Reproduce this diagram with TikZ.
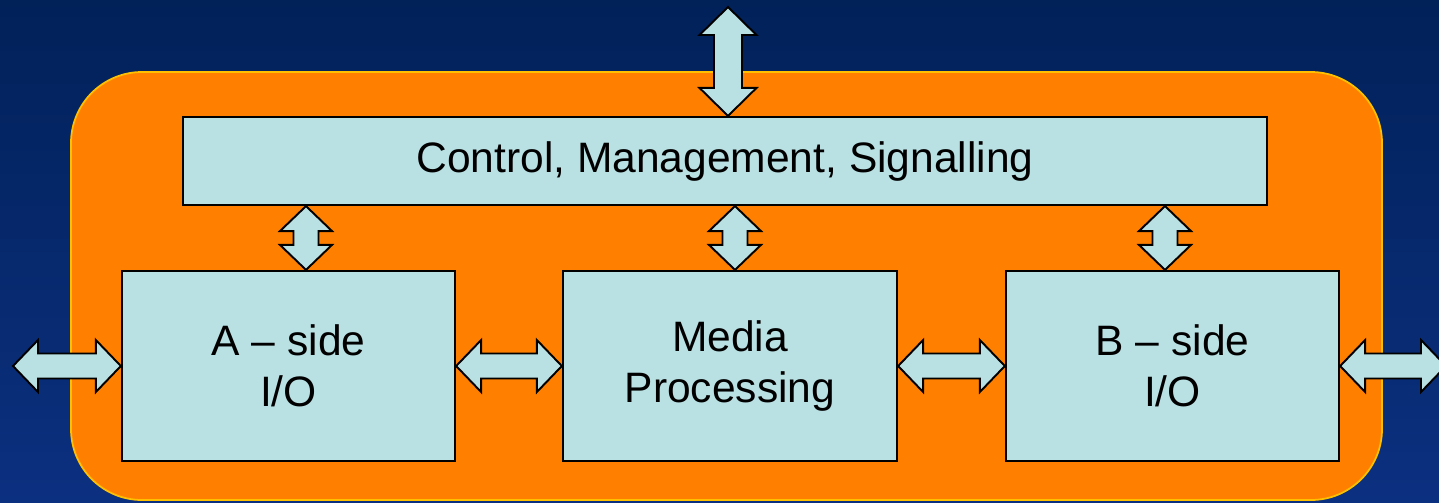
\documentclass[tikz,border=0pt]{standalone}
\usepackage{fontspec}
\setmainfont{Liberation Sans}
\usetikzlibrary{calc}

\definecolor{navytop}{RGB}{1,33,89}
\definecolor{navybot}{RGB}{12,48,128}
\definecolor{panelorange}{RGB}{255,128,0}
\definecolor{panelrim}{RGB}{255,192,0}
\definecolor{boxblue}{RGB}{185,224,227}

\tikzset{
  block/.style={draw=black, fill=boxblue, line width=0.6pt, inner sep=0pt, align=center,
    font=\fontsize{12.1}{14.5}\selectfont},
  blockarrow/.style n args={3}{fill=boxblue, draw=black, line width=0.55pt, line join=miter,
    to path={
      -- ($(\tikztostart)!#1!(\tikztotarget)!#2!90:(\tikztotarget)$)
      -- ($(\tikztostart)!#1!(\tikztotarget)!#3!90:(\tikztotarget)$)
      -- ($(\tikztotarget)!#1!(\tikztostart)!#3!-90:(\tikztostart)$)
      -- ($(\tikztotarget)!#1!(\tikztostart)!#2!-90:(\tikztostart)$)
      -- (\tikztotarget)
      -- ($(\tikztotarget)!#1!(\tikztostart)!#2!90:(\tikztostart)$)
      -- ($(\tikztotarget)!#1!(\tikztostart)!#3!90:(\tikztostart)$)
      -- ($(\tikztostart)!#1!(\tikztotarget)!#3!-90:(\tikztotarget)$)
      -- ($(\tikztostart)!#1!(\tikztotarget)!#2!-90:(\tikztotarget)$)
      -- cycle}},
  smallarrow/.style={blockarrow={0.25cm}{0.26cm}{0.125cm}},
  bigarrow/.style={blockarrow={0.28cm}{0.285cm}{0.14cm}}
}

\begin{document}
\begin{tikzpicture}[x=0.01cm, y=-0.01cm]
  \useasboundingbox (0,0) rectangle (1439,502);
  \shade[top color=navytop, bottom color=navybot] (0,0) rectangle (1439,502);
  \filldraw[fill=panelorange, draw=panelrim, line width=0.5pt, rounded corners=0.71cm] (71,72) rectangle (1382,500);

  \node[block, minimum width=10.84cm, minimum height=0.88cm] (ctl) at (725,161) {Control, Management, Signalling};
  \node[block, minimum width=3.33cm, minimum height=1.9cm] (aio) at (288.5,366) {A – side\\I/O};
  \node[block, minimum width=3.34cm, minimum height=1.9cm] (mp) at (730,366) {Media\\Processing};
  \node[block, minimum width=3.33cm, minimum height=1.9cm] (bio) at (1172.5,366) {B – side\\I/O};

  \coordinate (top) at (728,7);
  \coordinate (xa) at (306,0);
  \coordinate (xm) at (735,0);
  \coordinate (xb) at (1165,0);
  \coordinate (lft) at (13,366);
  \coordinate (rgt) at (1446,366);

  \draw[bigarrow] (ctl.north -| top) to (top);
  \draw[smallarrow] (ctl.south -| xa) to (aio.north -| xa);
  \draw[smallarrow] (ctl.south -| xm) to (mp.north -| xm);
  \draw[smallarrow] (ctl.south -| xb) to (bio.north -| xb);
  \draw[smallarrow] (lft) to (aio.west);
  \draw[smallarrow] (aio.east) to (mp.west);
  \draw[smallarrow] (mp.east) to (bio.west);
  \draw[smallarrow] (bio.east) to (rgt);
\end{tikzpicture}
\end{document}
